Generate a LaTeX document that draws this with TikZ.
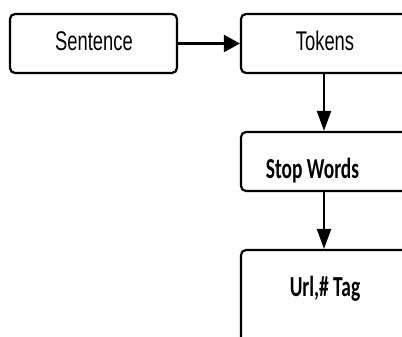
\documentclass[tikz,border=0pt]{standalone}
\usepackage{fontspec}
\newfontfamily\boxsans[FakeStretch=0.68]{Liberation Sans}
\newfontfamily\boxbold[FakeStretch=0.67]{Carlito}
\usetikzlibrary{arrows.meta}
\tikzset{stage/.style={draw,line width=2.2pt,rounded corners=5pt,inner sep=0pt},
 flow/.style={line width=2.2pt},
 harrow/.style={-{Triangle[length=16pt,width=17pt]}},
 varrow/.style={-{Triangle[length=20pt,width=14pt]}}}
\begin{document}
\begin{tikzpicture}[x=1pt,y=-1pt]
 \useasboundingbox (0,0) rectangle (402,337);\clip (0,0) rectangle (402,337);
 \node[stage,minimum width=167pt,minimum height=59pt] (sent) at (93.5,43.5) {};
 \node[stage,minimum width=175pt,minimum height=59pt] (tok) at (328.5,43.5) {};
 \node[stage,minimum width=175pt,minimum height=59pt] (stop) at (328.5,161.5) {};
 \node[stage,minimum width=175pt,minimum height=130pt] (url) at (328.5,315) {};
 \coordinate (axis) at (324,0);
 \node[anchor=base,font=\boxsans\fontsize{27}{32}\selectfont] (sentt) at (94,50.5) {Sentence};
 \node[anchor=base,font=\boxsans\fontsize{27}{32}\selectfont] (tokt) at (325,50.5) {Tokens};
 \node[anchor=base,font=\boxbold\bfseries\fontsize{29}{34}\selectfont] (stopt) at (312.5,178.5) {Stop Words};
 \node[anchor=base,font=\boxbold\bfseries\fontsize{29}{34}\selectfont] (urlt) at (325,296.5) {Url,\# Tag};
 \draw[flow,harrow] (sent.east) -- (tok.west);
 \draw[flow,varrow] (tok.south -| axis) -- (stop.north -| axis);
 \draw[flow,varrow] (stop.south -| axis) -- (url.north -| axis);
\end{tikzpicture}
\end{document}
